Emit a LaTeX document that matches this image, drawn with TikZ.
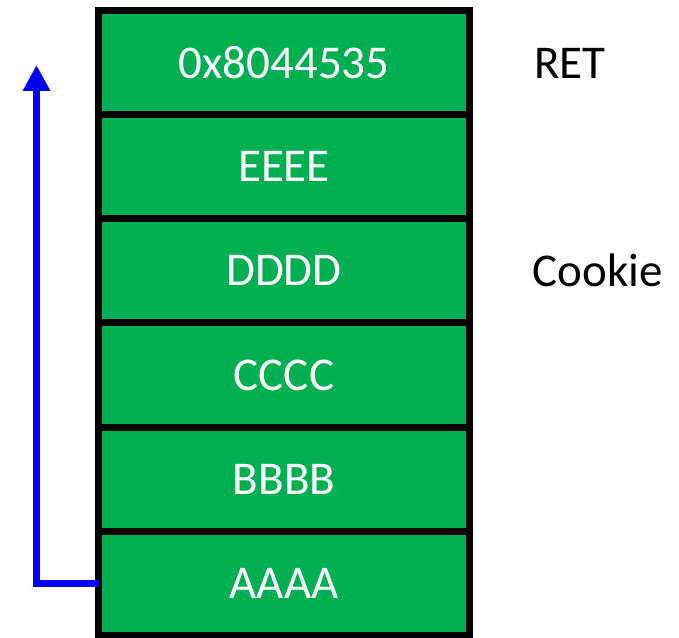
\documentclass[tikz,border=0pt]{standalone}
\usepackage{fontspec}
\setmainfont{Carlito}
\usetikzlibrary{positioning,arrows.meta}
\definecolor{slotgreen}{RGB}{0,176,80}
\tikzset{
  slot/.style={rectangle, draw=black, fill=slotgreen, line width=7pt,
    minimum width=371pt, minimum height=104.2pt, inner sep=0pt, outer sep=0pt,
    text=white, font=\fontsize{47}{52}\selectfont},
  side/.style={font=\fontsize{47}{52}\selectfont, inner sep=0pt},
  jump/.style={draw=blue, line width=7pt, -{Triangle[width=26pt,length=26pt]}}
}
\begin{document}
\begin{tikzpicture}[x=1pt,y=1pt]
    \useasboundingbox (0,0) rectangle (679,637);

    \node[slot] (ret) at (284,574.5) {0x8044535};
    \node[slot, below=0pt of ret] (e) {EEEE};
    \node[slot, below=0pt of e] (d) {DDDD};
    \node[slot, below=0pt of d] (c) {CCCC};
    \node[slot, below=0pt of c] (b) {BBBB};
    \node[slot, below=0pt of b] (a) {AAAA};

    \node[side] (retlabel) at (570,574) {RET};
    \node[side] (cookie) at (598,367) {Cookie};

    \coordinate (top) at (36.5,572);
    \draw[jump] (a.west) -| (top); % overflow goes up to RET
\end{tikzpicture}
\end{document}
